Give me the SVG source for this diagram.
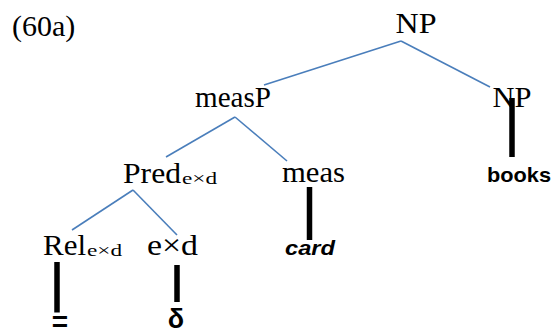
<svg xmlns="http://www.w3.org/2000/svg" width="554" height="329" viewBox="0 0 554 329">
<style>
.t{font-family:"Liberation Serif","Times New Roman",serif;font-size:30px;fill:#000}
.s{font-family:"Liberation Serif","Times New Roman",serif;font-size:17px;fill:#000}
.b{font-family:"Liberation Sans",Arial,sans-serif;font-weight:bold;font-size:21px;fill:#000}
.e{stroke:#4a7ebb;stroke-width:1.6;fill:none}
.bar{stroke:#000;stroke-width:5.5;fill:none}
</style>
<rect width="554" height="329" fill="#fff"/>
<text class="t" x="12" y="36">(60a)</text>
<g id="connectors">
<line class="e" x1="401" y1="41" x2="264" y2="85"/>
<line class="e" x1="401" y1="41" x2="490" y2="87"/>
<line class="e" x1="235" y1="117" x2="166" y2="157"/>
<line class="e" x1="235" y1="117" x2="287" y2="161"/>
<line class="e" x1="133" y1="190" x2="72" y2="230"/>
<line class="e" x1="133" y1="190" x2="177" y2="235"/>
<line class="bar" x1="512" y1="98" x2="512" y2="157"/>
<line class="bar" x1="309.5" y1="187" x2="309.5" y2="240"/>
<line class="bar" x1="57" y1="262" x2="57" y2="312.5"/>
<line class="bar" x1="177" y1="265" x2="177" y2="302"/>
</g>
<g id="np-top"><text class="t" x="416" y="33" text-anchor="middle" textLength="41" lengthAdjust="spacingAndGlyphs">NP</text></g>
<g id="measP"><text class="t" x="195" y="107" textLength="76" lengthAdjust="spacingAndGlyphs">measP</text></g>
<g id="np-right"><text class="t" x="512" y="107" text-anchor="middle" textLength="39" lengthAdjust="spacingAndGlyphs">NP</text></g>
<g id="books"><text class="b" x="487" y="182" textLength="64" lengthAdjust="spacingAndGlyphs">books</text></g>
<g id="pred"><text class="t" x="123" y="183" textLength="58" lengthAdjust="spacingAndGlyphs">Pred</text><text class="s" x="182" y="184" textLength="35" lengthAdjust="spacingAndGlyphs">e×d</text></g>
<g id="meas"><text class="t" x="282" y="182" textLength="63" lengthAdjust="spacingAndGlyphs">meas</text></g>
<g id="card"><text class="b" x="285" y="255" font-style="italic" textLength="50" lengthAdjust="spacingAndGlyphs">card</text></g>
<g id="rel"><text class="t" x="43" y="255" textLength="43" lengthAdjust="spacingAndGlyphs">Rel</text><text class="s" x="87" y="256" textLength="35" lengthAdjust="spacingAndGlyphs">e×d</text></g>
<g id="exd"><text class="t" x="147" y="255" textLength="51" lengthAdjust="spacingAndGlyphs">e×d</text></g>
<g id="eq"><text class="b" x="60" y="331" style="font-size:28px" text-anchor="middle">=</text></g>
<g id="delta"><text class="b" x="176" y="328" style="font-size:27px" text-anchor="middle">δ</text></g>
</svg>
